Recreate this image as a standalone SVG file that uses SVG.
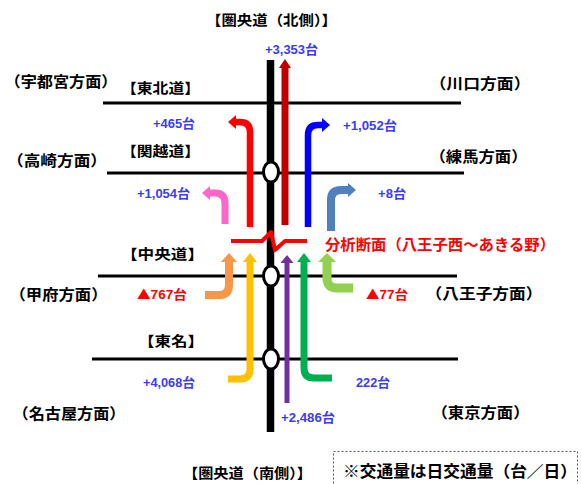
<svg xmlns="http://www.w3.org/2000/svg" width="582" height="484" viewBox="0 0 582 484">
<style>
text{font-family:"Liberation Sans","Noto Sans CJK JP",sans-serif;font-weight:bold;}
.lbl{font-size:15px;fill:#000;}
.rd{font-size:14px;fill:#000;}
.num{font-size:13px;fill:#3b3bff;}
.neg{font-size:13px;fill:#ff0000;}
.tri{font-family:"Noto Sans CJK JP",sans-serif;}
.road{stroke:#000;stroke-width:3;fill:none;}
.flow{fill:none;stroke-linejoin:round;}
.node{fill:#fff;stroke:#000;stroke-width:3;}
</style>
<rect width="582" height="484" fill="#fff"/>
<g id="roads">
<line class="road" x1="103" y1="103" x2="461" y2="103"/>
<line class="road" x1="107" y1="173" x2="464" y2="173"/>
<line class="road" x1="98" y1="276" x2="457" y2="276"/>
<line class="road" x1="92" y1="359" x2="458" y2="359"/>
</g>
<g id="kenodo">
<line x1="270.5" y1="60" x2="270.5" y2="432" stroke="#000" stroke-width="7.5"/>
<ellipse class="node" cx="271" cy="172" rx="7.5" ry="10"/>
<ellipse class="node" cx="271" cy="276" rx="7.5" ry="10"/>
<ellipse class="node" cx="271" cy="359" rx="7.5" ry="10"/>
</g>
<g id="connectors">
<path class="flow" d="M285,225 V67" stroke="#c00000" stroke-width="7"/>
<polygon points="279,68 291,68 285,59" fill="#c00000"/>
<path class="flow" d="M250,227 V132 Q250,122 240,122 H235" stroke="#ff0000" stroke-width="6.5"/>
<polygon points="236,115 236,129 228,122" fill="#ff0000"/>
<path class="flow" d="M308,227 V135 Q308,125 318,125 H323" stroke="#0000ff" stroke-width="6.5"/>
<polygon points="322,118 322,132 330,125" fill="#0000ff"/>
<path class="flow" d="M225,224 V203 Q225,193 215,193 H209" stroke="#ff66cc" stroke-width="7"/>
<polygon points="210,186 210,200 202,193" fill="#ff66cc"/>
<path class="flow" d="M331,231 V200 Q331,190 341,190 H349" stroke="#4f81bd" stroke-width="8"/>
<polygon points="348,183 348,197 356,190" fill="#4f81bd"/>
<path class="flow" d="M231,241 H262 L271,232 L275,250 L285,241 H307" stroke="#ff0000" stroke-width="4"/>
<path class="flow" d="M205,295 H219 Q229,295 229,285 V261" stroke="#f79646" stroke-width="8"/>
<polygon points="221,262 237,262 229,253" fill="#f79646"/>
<path class="flow" d="M228,379 H240 Q250,379 250,369 V261" stroke="#ffc000" stroke-width="7"/>
<polygon points="243,262 257,262 250,253" fill="#ffc000"/>
<path class="flow" d="M287,403 V262" stroke="#7030a0" stroke-width="5"/>
<polygon points="280.5,263 293.5,263 287,255" fill="#7030a0"/>
<path class="flow" d="M332,378 H314 Q304,378 304,368 V261" stroke="#00b050" stroke-width="7"/>
<polygon points="297,262 311,262 304,253" fill="#00b050"/>
<path class="flow" d="M353,288 H337 Q327,288 327,278 V261" stroke="#92d050" stroke-width="9"/>
<polygon points="318,262 336,262 327,253" fill="#92d050"/>
</g>
<g id="labels">
<text class="rd" x="271.5" y="25" text-anchor="middle" textLength="131" lengthAdjust="spacingAndGlyphs">【圏央道（北側）】</text>
<text class="num" x="265" y="54" textLength="53" lengthAdjust="spacingAndGlyphs">+3,353台</text>
<text class="lbl" x="61" y="87" text-anchor="middle" textLength="113" lengthAdjust="spacingAndGlyphs">（宇都宮方面）</text>
<text class="rd" x="160.5" y="93" text-anchor="middle" textLength="79" lengthAdjust="spacingAndGlyphs">【東北道】</text>
<text class="num" x="153" y="128" textLength="42" lengthAdjust="spacingAndGlyphs">+465台</text>
<text class="lbl" x="57" y="166" text-anchor="middle" textLength="100" lengthAdjust="spacingAndGlyphs">（高崎方面）</text>
<text class="rd" x="160.5" y="156" text-anchor="middle" textLength="79" lengthAdjust="spacingAndGlyphs">【関越道】</text>
<text class="num" x="137" y="198" textLength="53" lengthAdjust="spacingAndGlyphs">+1,054台</text>
<text class="lbl" x="480" y="89" text-anchor="middle" textLength="101" lengthAdjust="spacingAndGlyphs">（川口方面）</text>
<text class="num" x="343" y="130" textLength="54" lengthAdjust="spacingAndGlyphs">+1,052台</text>
<text class="lbl" x="478.5" y="162" text-anchor="middle" textLength="98" lengthAdjust="spacingAndGlyphs">（練馬方面）</text>
<text class="num" x="378" y="198" textLength="28" lengthAdjust="spacingAndGlyphs">+8台</text>
<text class="rd" x="162.5" y="259" text-anchor="middle" textLength="83" lengthAdjust="spacingAndGlyphs">【中央道】</text>
<text x="325" y="250" font-size="15" fill="#ff0000" textLength="230" lengthAdjust="spacingAndGlyphs">分析断面（八王子西～あきる野）</text>
<text class="lbl" x="58.5" y="300" text-anchor="middle" textLength="98" lengthAdjust="spacingAndGlyphs">（甲府方面）</text>
<text class="neg" x="137" y="299" textLength="50" lengthAdjust="spacingAndGlyphs"><tspan class="tri">▲</tspan>767台</text>
<text class="neg" x="366" y="299" textLength="42" lengthAdjust="spacingAndGlyphs"><tspan class="tri">▲</tspan>77台</text>
<text class="lbl" x="484" y="299" text-anchor="middle" textLength="117" lengthAdjust="spacingAndGlyphs">（八王子方面）</text>
<text class="rd" x="171" y="346" text-anchor="middle" textLength="66" lengthAdjust="spacingAndGlyphs">【東名】</text>
<text class="num" x="143" y="387" textLength="52" lengthAdjust="spacingAndGlyphs">+4,068台</text>
<text class="lbl" x="69" y="419" text-anchor="middle" textLength="113" lengthAdjust="spacingAndGlyphs">（名古屋方面）</text>
<text class="num" x="281" y="422" textLength="54" lengthAdjust="spacingAndGlyphs">+2,486台</text>
<text class="num" x="356" y="387" textLength="34" lengthAdjust="spacingAndGlyphs">222台</text>
<text class="lbl" x="480.5" y="418" text-anchor="middle" textLength="98" lengthAdjust="spacingAndGlyphs">（東京方面）</text>
<text class="rd" x="247.5" y="478" text-anchor="middle" textLength="129" lengthAdjust="spacingAndGlyphs">【圏央道（南側）】</text>
</g>
<g id="note">
<rect x="333.5" y="451.5" width="244" height="40" fill="none" stroke="#555" stroke-width="1" stroke-dasharray="2,2"/>
<text x="343" y="477" font-size="16" fill="#000" textLength="234" lengthAdjust="spacingAndGlyphs">※交通量は日交通量（台／日）</text>
</g>
</svg>
